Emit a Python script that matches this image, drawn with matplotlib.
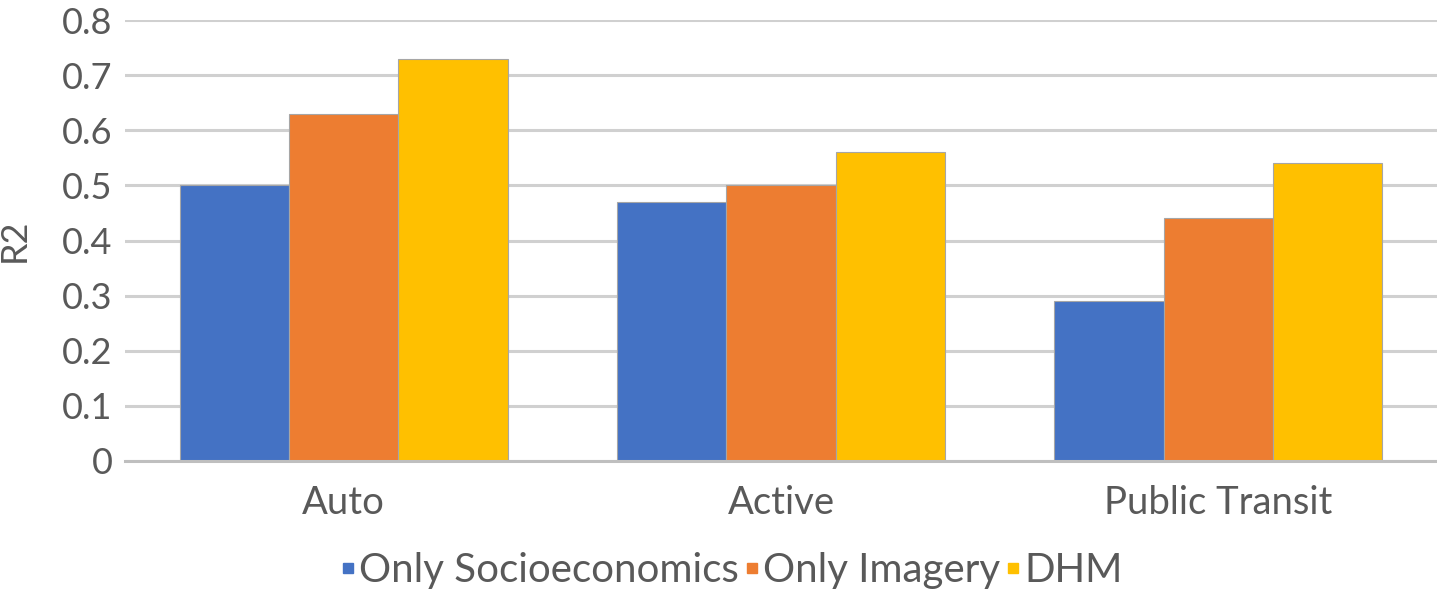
import numpy as np
import matplotlib.pyplot as plt
from matplotlib.lines import Line2D

# data
categories = ["Auto", "Active", "Public Transit"]
series_names = ["Only Socioeconomics", "Only Imagery", "DHM"]
socio = [0.50, 0.47, 0.29]
imagery = [0.63, 0.50, 0.44]
dhm = [0.73, 0.56, 0.54]
colors = ["#4472C4", "#ED7D31", "#FFC000"]
yticks = [0, 0.1, 0.2, 0.3, 0.4, 0.5, 0.6, 0.7, 0.8]

plt.rcParams['font.family'] = ['Lato', 'DejaVu Sans']
text_color = "#595959"

fig = plt.figure(figsize=(14.37, 5.91), dpi=100)
ax = fig.add_axes([0.087, 0.22, 0.913, 0.746])

x = np.arange(len(categories))
width = 0.25
for i, (vals, c) in enumerate(zip([socio, imagery, dhm], colors)):
    ax.bar(x + (i - 1) * width, vals, width, color=c, edgecolor="#A6A6A6",
           linewidth=0.8, zorder=3)

ax.set_xlim(-0.5, 2.5)
ax.set_ylim(0, 0.8)
ax.set_yticks(yticks)
ax.set_yticklabels(["0" if v == 0 else f"{v:.1f}" for v in yticks])
ax.set_xticks(x)
ax.set_xticklabels(categories)
ax.tick_params(axis="both", length=0, labelsize=26, colors=text_color)
ax.tick_params(axis="y", pad=9)
ax.tick_params(axis="x", pad=17)
for lbl in ax.get_xticklabels():
    lbl.set_fontsize(27.5)

ax.grid(axis="y", color="#D0D0D0", linewidth=2.2, zorder=0)
for s in ["top", "right", "left"]:
    ax.spines[s].set_visible(False)
ax.spines["bottom"].set_color("#BFBFBF")
ax.spines["bottom"].set_linewidth(2.2)
ax.spines["bottom"].set_zorder(4)

ax.set_ylabel("R2", fontsize=26, color=text_color)
ax.yaxis.set_label_coords(-0.072, 0.5)

handles = [Line2D([0], [0], marker="s", linestyle="none", markersize=7.5,
                  markerfacecolor=c, markeredgecolor=c) for c in colors]
leg = fig.legend(handles, series_names, loc="center", bbox_to_anchor=(0.509, 0.035),
                 ncol=3, frameon=False, fontsize=29, handlelength=0.35,
                 handletextpad=0.1, columnspacing=0.15, labelcolor=text_color)

fig.savefig("out.png", dpi=100)
